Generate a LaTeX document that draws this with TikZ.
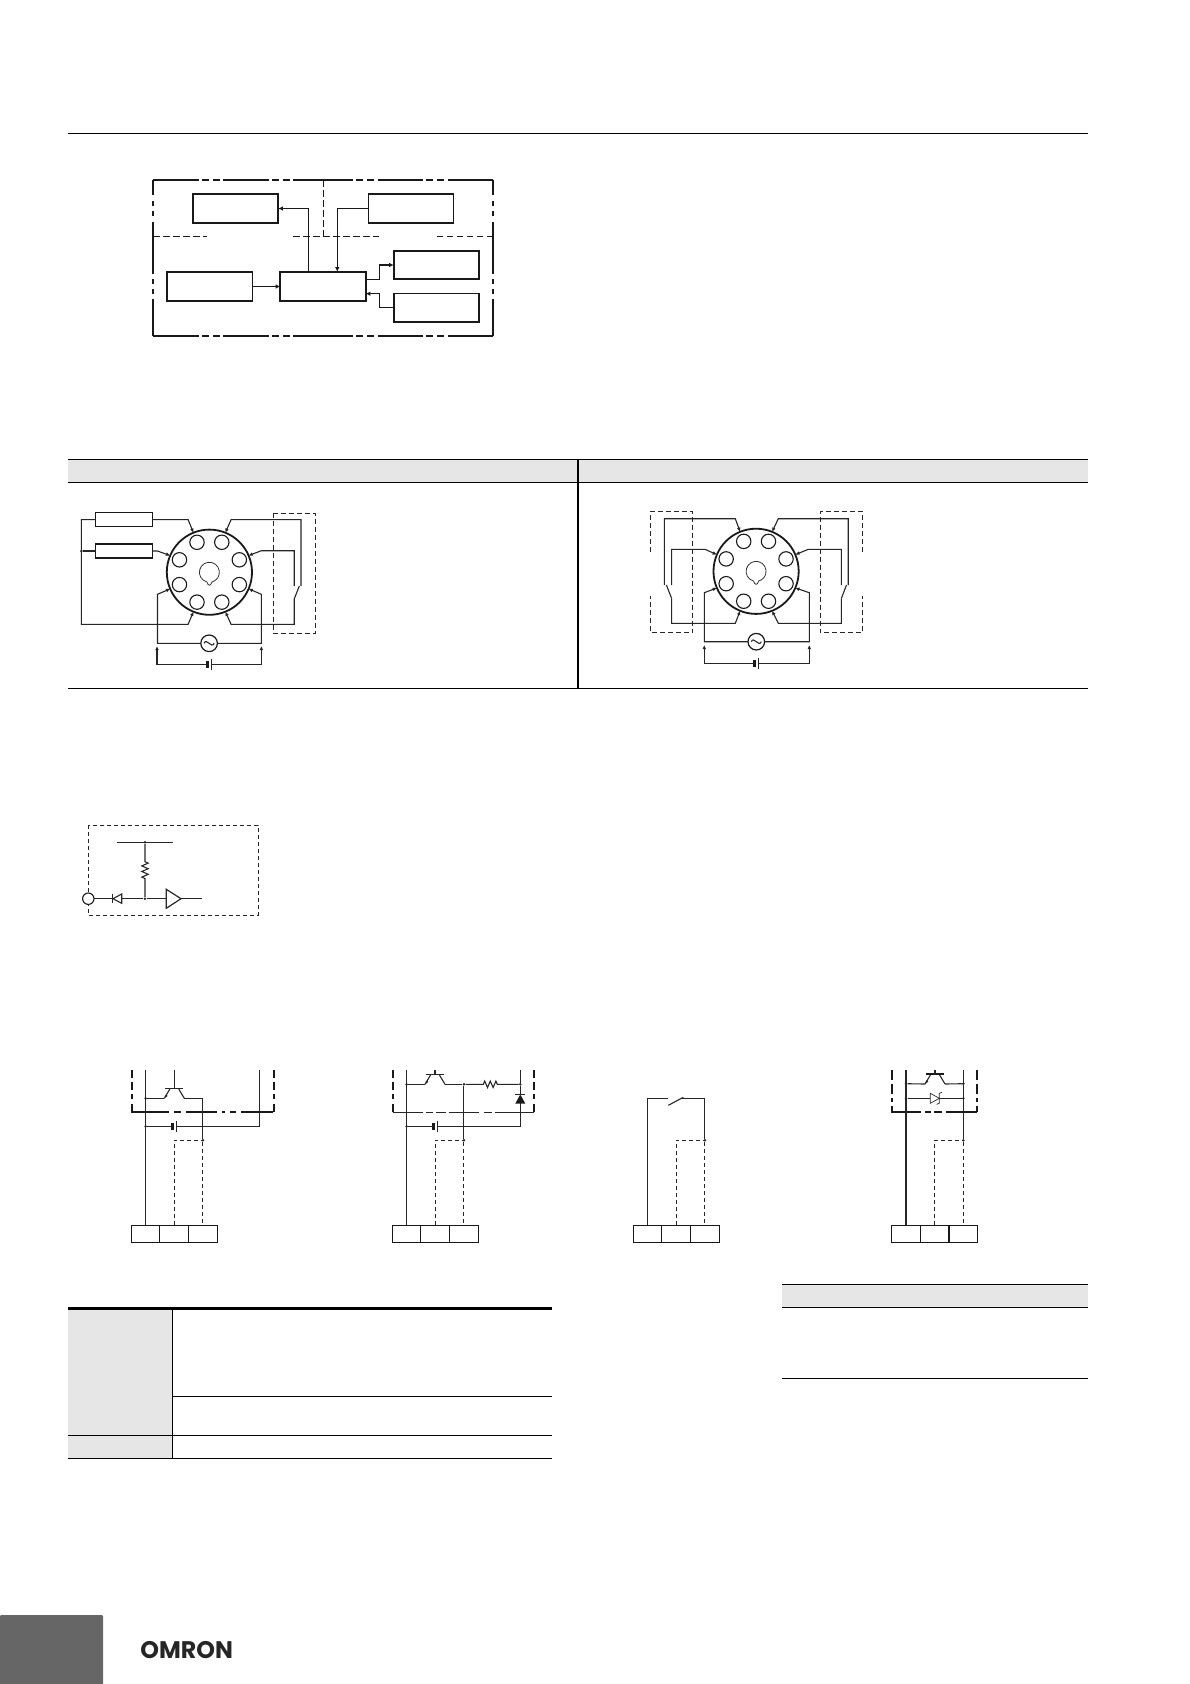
\documentclass[tikz,border=0pt]{standalone}
\usepackage{fontspec}
\usetikzlibrary{positioning,arrows.meta,decorations.pathmorphing}
\newfontfamily\logofont{Poppins}
\definecolor{tablegray}{HTML}{E6E6E6}
\definecolor{tabgray}{HTML}{666666}
\tikzset{
  rulebar/.style={line width=1.1pt,black},
  blockbox/.style={draw,line width=1.9pt,black!90,inner sep=0pt,outer sep=0pt,minimum width=85.6pt,minimum height=29.6pt},
  sig/.style={line width=1.1pt,black!90,-{Latex[length=4.5pt,width=4.5pt]}},
  wire/.style={line width=1.1pt,black!85},
  wiretip/.style={wire,-{Latex[length=4.2pt,width=3.8pt]}},
  dashline/.style={wire,dash pattern=on 4pt off 3pt},
  borderh/.style={line width=1.9pt,black!90,dash pattern=on 45.5pt off 3.5pt on 7pt off 4pt on 7pt off 3pt},
  borderv/.style={line width=1.9pt,black!90,dash pattern=on 15pt off 6pt on 5pt off 5pt on 5pt off 6pt on 52pt off 5pt on 5pt off 5pt on 5pt off 5pt on 40pt},
  cutline/.style={line width=1.1pt,black!90,dash pattern=on 6.5pt off 3.5pt},
  socketring/.style={circle,draw,line width=1.8pt,black!90,inner sep=0pt,outer sep=0pt,minimum size=85.2pt},
  pinhole/.style={circle,draw,line width=1.1pt,black!90,inner sep=0pt,minimum size=14.4pt},
  loadbox/.style={draw,line width=1.2pt,black!90,inner sep=0pt,outer sep=0pt,minimum width=57pt,minimum height=14pt},
  acsrc/.style={circle,draw,line width=1.2pt,black!90,inner sep=0pt,outer sep=0pt,minimum size=16.6pt},
  joint/.style={circle,fill=black!85,inner sep=0pt,minimum size=2.8pt},
  termcell/.style={draw,line width=1.1pt,black!90,inner sep=0pt,outer sep=0pt,minimum width=28.67pt,minimum height=17pt},
  zig/.style={decoration={zigzag,segment length=5.6pt,amplitude=3.2pt}},
  sidethick/.style={line width=1.9pt,black!90},
  npn/.pic={
    \coordinate (-b) at (0,0); \coordinate (-e) at (-10,10); \coordinate (-c) at (10,10);
    \coordinate (-l) at (-9,0); \coordinate (-r) at (9,0);
    \draw[wire,line width=1.3pt] (-l) -- (-r);
    \draw[wire] (-4.5,0.8) -- (-e);
    \draw[wire] (4.5,0.8) -- (-c);
    \fill[black!85] (-e) -- (-8.4,6.2) -- (-6.6,7.6) -- cycle;
  },
  dccell/.pic={
    \coordinate (-n) at (-2,0); \coordinate (-p) at (2,0);
    \draw[line width=2.4pt,black!90] (-2,-3.3) -- (-2,3.3);
    \draw[wire] (2,-5.6) -- (2,5.6);
  }
}
\begin{document}
\begin{tikzpicture}[x=1pt,y=-1pt]
  \useasboundingbox (0,0) rectangle (1190,1684);
  \draw[rulebar] (68,133.5) -- (1088,133.5);

  % block diagram
  \coordinate (cornerTL) at (153,180);
  \coordinate (cornerTR) at (493.3,180);
  \coordinate (cornerBL) at (153,336);
  \coordinate (cornerBR) at (493.3,336);
  \coordinate (midT) at (323,180);
  \coordinate (midB) at (323,336);
  \draw[borderh] (cornerTL) -- (midT);
  \draw[borderh] (cornerTR) -- (midT);
  \draw[borderh] (cornerBL) -- (midB);
  \draw[borderh] (cornerBR) -- (midB);
  \draw[borderv] (cornerTL) -- (cornerBL);
  \draw[borderv] (cornerTR) -- (cornerBR);
  \draw[cutline] (153,236.7) -- (207.3,236.7);
  \draw[cutline] (293,236.7) -- (379.3,236.7);
  \draw[cutline] (493.3,236.7) -- (436.7,236.7);
  \draw[cutline] (323.7,180) -- (323.7,236.7);

  \node[blockbox] (dispBox) at (235.5,208.5) {};
  \node[blockbox,line width=1.2pt] (setBox) at (411,208.5) {};
  \draw[line width=1.9pt,black!90] (setBox.north west) -- (setBox.north east);
  \draw[line width=1.9pt,black!90] (setBox.south west) -- (setBox.south east);
  \node[blockbox] (sensBox) at (209.7,286.5) {};
  \node[blockbox] (ctrlBox) at (323,286.5) {};
  \node[blockbox,minimum height=28.6pt] (outBox) at (436.5,265) {};
  \node[blockbox,minimum height=28.6pt] (startBox) at (436.5,307.8) {};
  \draw[sig] ([xshift=-14.3pt]ctrlBox.north) |- (dispBox.east);
  \draw[sig] (setBox.west) -| ([xshift=14.3pt]ctrlBox.north);
  \draw[sig] (sensBox.east) -- (ctrlBox.west);
  \draw[sig] ([yshift=7.2pt]ctrlBox.east) -- ++(13.6,0) |- (outBox.west);
  \draw[sig] (startBox.west) -- ++(-14.4,0) |- ([yshift=-7.2pt]ctrlBox.east);

  % wiring table
  \fill[tablegray] (68,459.3) rectangle (1088,482.3);
  \draw[rulebar] (68,459.3) -- (1088,459.3);
  \draw[rulebar] (68,482.3) -- (1088,482.3);
  \draw[rulebar] (68,688.3) -- (1088,688.3);
  \draw[rulebar] (578,459.3) -- (578,688.3);

  \node[socketring] (sockA) at (209.4,572.2) {};
  \node[socketring] (sockB) at (756.1,571.3) {};
  \foreach \s in {sockA,sockB}{
    \foreach \a in {22.5,67.5,...,337.5}
      \node[pinhole] at ([shift={(\a:32.4)}]\s.center) {};
    \begin{scope}[shift={(\s.center)}]
      \draw[line width=0.8pt,black!80] (-2.6,9.7) arc[start angle=105,end angle=435,radius=10]
        .. controls (1.8,12) and (1,13) .. (0,13) .. controls (-1,13) and (-1.8,12) .. (-2.6,9.7);
    \end{scope}
  }

  % socket with two loads
  \node[loadbox] (loadTop) at (124,519.6) {};
  \node[loadbox,line width=1.8pt] (loadLow) at (124,551) {};
  \node[joint] (loadJoint) at (81.4,551) {};
  \draw[wiretip] (loadTop.east) -- (188.1,519.6) -- (sockA.112);
  \draw[wiretip] (loadTop.west) -- (81.4,519.6) -- (81.4,624.3) -- (188.1,624.3) -- (sockA.248);
  \draw[wiretip] (loadLow.east) -- (157.5,551) -- (sockA.157);
  \draw[wire] (loadLow.west) -- (loadJoint);
  \draw[wiretip] (301,586) -- (301,519.6) -- (231.1,519.6) -- (sockA.68);
  \draw[wiretip] (294.2,586) -- (294.2,550.7) -- (261.4,550.7) -- (sockA.23);
  \draw[wiretip] (294.2,599) -- (294.2,624.3) -- (231.1,624.3) -- (sockA.-68);
  \draw[wire] (294.2,599) -- (299.3,586);
  \draw[dashline,dash pattern=on 5pt off 3pt] (273.2,513.3) rectangle (315.5,633.3);
  \node[acsrc] (acA) at (209.1,643.3) {};
  \draw[wiretip] (acA.west) -- (157.5,643.3) -- (157.5,594.3) -- (sockA.203);
  \draw[wiretip] (acA.east) -- (261.4,643.3) -- (261.4,594.3) -- (sockA.-23);
  \pic (battA) at (209.4,664.3) {dccell};
  \draw[wiretip] (battA-n) -- (157,664.3) -- (157,646);
  \draw[wiretip] (battA-p) -- (261.4,664.3) -- (261.4,646);

  % socket with two switches
  \draw[wiretip] (664.4,585) -- (664.4,518.7) -- (735.3,518.7) -- (sockB.112);
  \draw[wiretip] (671.6,585) -- (671.6,549.3) -- (705,549.3) -- (sockB.157);
  \draw[wire] (671.6,598.3) -- (666.4,585);
  \draw[wiretip] (671.6,598.3) -- (671.6,623.3) -- (735.3,623.3) -- (sockB.248);
  \draw[wiretip] (848.2,585) -- (848.2,518.7) -- (778.3,518.7) -- (sockB.68);
  \draw[wiretip] (841.4,585) -- (841.4,549.3) -- (808.3,549.3) -- (sockB.23);
  \draw[wire] (841.4,598.3) -- (846.5,585);
  \draw[wiretip] (841.4,598.3) -- (841.4,623.3) -- (778.3,623.3) -- (sockB.-68);
  \draw[dashline,dash pattern=on 5pt off 3pt] (650.2,551.7) -- (650.2,511.3) -- (692.6,511.3) -- (692.6,632.7) -- (650.2,632.7) -- (650.2,595.7);
  \draw[dashline,dash pattern=on 5pt off 3pt] (862.7,551.7) -- (862.7,511.3) -- (820.3,511.3) -- (820.3,632.7) -- (862.7,632.7) -- (862.7,595.7);
  \node[acsrc] (acB) at (756.3,641.7) {};
  \draw[wiretip] (acB.west) -- (704.3,641.7) -- (704.3,592.7) -- (sockB.203);
  \draw[wiretip] (acB.east) -- (809.3,641.7) -- (809.3,592.7) -- (sockB.-23);
  \pic (battB) at (756.5,663.3) {dccell};
  \draw[wiretip] (battB-n) -- (704.3,663.3) -- (704.3,645);
  \draw[wiretip] (battB-p) -- (809.3,663.3) -- (809.3,645);
  \foreach \s in {acA,acB}
    \draw[wire] ([xshift=-5pt]\s.center) .. controls +(2.5,-6) and +(-2.5,6) .. ([xshift=5pt]\s.center);

  % input circuit
  \draw[dashline] (88.3,825.3) rectangle (258.3,915.3);
  \node[circle,draw,line width=1.1pt,black!90,fill=white,inner sep=0pt,outer sep=0pt,minimum size=11.4pt] (inPad) at (88.3,898.7) {};
  \node[joint] (inJoint) at (145,898.7) {};
  \node[joint] (vccJoint) at (145,842.3) {};
  \draw[wire] (117.3,842.3) -- (172.7,842.3);
  \draw[wire] (vccJoint) -- (145,861.7) decorate[zig]{-- (145,879)} -- (inJoint);
  \draw[wire] (inPad.east) -- (112.7,898.7);
  \draw[wire] (112.7,894) -- (112.7,903.3);
  \draw[wire] (113,898.7) -- (121.7,894) -- (121.7,903.3) -- cycle;
  \draw[wire] (121.7,898.7) -- (inJoint) -- (166.3,898.7);
  \draw[wire,line width=1.2pt] (166.3,889.3) -- (181,898.7) -- (166.3,908.3) -- cycle;
  \draw[wire] (181,898.7) -- (201.7,898.7);

  % output circuits
  \coordinate (topY) at (0,1070);
  \coordinate (riseY) at (0,1140.3);
  \foreach \u/\xpos in {A/145.6,B/406.6,C/647.6,D/906}{
    \node[termcell] (term\u1) at (\xpos,1233.8) {};
    \node[termcell,right=0pt of term\u1] (term\u2) {};
    \node[termcell,right=0pt of term\u2] (term\u3) {};
    \node[joint] (tap\u) at (term\u3.north |- riseY) {};
    \draw[dashline] (term\u2.north) |- (tap\u);
    \draw[dashline] (tap\u) -- (term\u3.north);
  }

  % unit with relay coil
  \draw[sidethick,dash pattern=on 8pt off 4pt on 8pt off 4pt on 5pt off 5pt on 8pt] (131.7,1070) -- (131.7,1112);
  \draw[sidethick,dash pattern=on 8pt off 4pt on 8pt off 4pt on 5pt off 5pt on 8pt] (274,1070) -- (274,1112);
  \draw[sidethick,dash pattern=on 38pt off 5pt on 7pt off 5pt on 31pt off 5pt on 3pt off 5pt on 6pt off 5pt on 32pt] (131,1112) -- (274.8,1112);
  \pic (tranA) at (174.3,1088.3) {npn};
  \node[joint] (jA1) at (145.6,1098.3) {};
  \node[joint] (jA2) at (145.6,1126.3) {};
  \pic (battC) at (174.3,1126.3) {dccell};
  \draw[wire] (termA1.north) -- (termA1.north |- topY);
  \draw[wire] (tranA-b) -- (tranA-b |- topY);
  \draw[wire] (jA1) -- (tranA-e);
  \draw[wire] (tranA-c) -| (tapA);
  \draw[wire] (jA2) -- (battC-n);
  \draw[wire] (battC-p) -| (259.3,1070);

  % unit with resistor and diode
  \draw[sidethick,dash pattern=on 8pt off 4pt on 8pt off 4pt on 5pt off 5pt on 8pt] (392.7,1070) -- (392.7,1112.5);
  \draw[sidethick,dash pattern=on 8pt off 4pt on 8pt off 4pt on 5pt off 5pt on 8pt] (534,1070) -- (534,1112.5);
  \draw[wire,line width=1.1pt,dash pattern=on 30pt off 3pt on 7pt off 3pt on 10pt off 3pt on 30pt off 5pt on 8pt off 3pt on 40pt] (392.7,1112.3) -- (534,1112.3);
  \pic (tranB) at (435,1074.3) {npn};
  \node[joint] (jB1) at (406.6,1084.3) {};
  \node[joint] (jB2) at (tapB |- jB1) {};
  \node[joint] (jB3) at (520.3,1084.3) {};
  \node[joint] (jB4) at (406.6,1126.3) {};
  \pic (battD) at (435.5,1126.3) {dccell};
  \draw[wire] (termB1.north) -- (termB1.north |- topY);
  \draw[wire] (tranB-b) -- (tranB-b |- topY);
  \draw[wire] (jB1) -- (tranB-e);
  \draw[wire] (tranB-c) -- (jB2);
  \draw[wire] (jB2) -- (tapB);
  \draw[wire] (jB2) -- (483.3,1084.3) decorate[zig]{-- (500,1084.3)} -- (jB3);
  \draw[wire] (jB3 |- topY) -- (jB3) -- (520.3,1094.3);
  \draw[wire] (515.3,1094.3) -- (525.3,1094.3);
  \fill[black!90] (520.3,1094.5) -- (525.3,1103.5) -- (515.3,1103.5) -- cycle;
  \draw[wire] (jB4) -- (battD-n);
  \draw[wire] (battD-p) -- (520.3,1126.3) -- (520.3,1103.3);

  % unit with contact
  \draw[wire] (termC1.north) |- (668.3,1098.3);
  \draw[wire] (668.3,1105.3) -- (683.3,1097.3);
  \draw[wire] (681.7,1098.3) -| (tapC);

  % unit with zener
  \draw[sidethick,dash pattern=on 10pt off 4pt on 10pt off 4pt on 4pt off 4pt on 7pt] (892,1070) -- (892,1112);
  \draw[sidethick,dash pattern=on 10pt off 4pt on 10pt off 4pt on 4pt off 4pt on 7pt] (977,1070) -- (977,1112);
  \draw[sidethick,dash pattern=on 30pt off 4pt on 6pt off 3pt on 8pt off 4pt on 31pt] (891.2,1112) -- (977.8,1112);
  \pic (tranD) at (935,1074) {npn};
  \draw[line width=2pt,black!90] (tranD-l) -- (tranD-r);
  \node[joint] (jD1) at (906,1083.7) {};
  \node[joint] (jD2) at (tapD |- jD1) {};
  \node[joint] (jD3) at (906,1098.3) {};
  \node[joint] (jD4) at (tapD |- jD3) {};
  \draw[wire] (termD1.north) -- (termD1.north |- topY);
  \draw[wire] (tapD) -- (tapD |- topY);
  \draw[wire] (tranD-b) -- (tranD-b |- topY);
  \draw[wire] (jD1) -- (tranD-e);
  \draw[wire] (tranD-c) -- (jD2);
  \draw[wire] (jD3) -- (930.3,1098.3);
  \draw[wire,line width=0.7pt] (930.3,1093.3) -- (939.3,1098.3) -- (930.3,1103.3) -- cycle;
  \draw[wire,line width=0.7pt] (942,1092.3) -- (939.3,1093.3) -- (939.3,1103.3) -- (936.6,1104.3);
  \draw[wire] (939.3,1098.3) -- (jD4);

  % lower tables
  \fill[tablegray] (68,1308.5) rectangle (172.5,1458.7);
  \draw[line width=2.2pt,black] (68,1308.5) -- (552.3,1308.5);
  \draw[rulebar] (172.5,1396.7) -- (552.3,1396.7);
  \draw[rulebar] (68,1435.3) -- (552.3,1435.3);
  \draw[rulebar] (68,1458.7) -- (552.3,1458.7);
  \draw[rulebar] (172.5,1308.5) -- (172.5,1458.7);
  \fill[tablegray] (782,1284.3) rectangle (1088,1307.3);
  \draw[rulebar] (782,1284.3) -- (1088,1284.3);
  \draw[rulebar] (782,1307.3) -- (1088,1307.3);
  \draw[rulebar] (782,1378.3) -- (1088,1378.3);

  % footer
  \fill[tabgray,rounded corners=1pt] (0,1615) rectangle (103,1690);
  \node[font=\logofont\bfseries\fontsize{24}{24}\selectfont,text=black!85,inner sep=0pt,xscale=0.99,transform shape] (logo) at (186.7,1650) {OMRON};
\end{tikzpicture}
\end{document}
